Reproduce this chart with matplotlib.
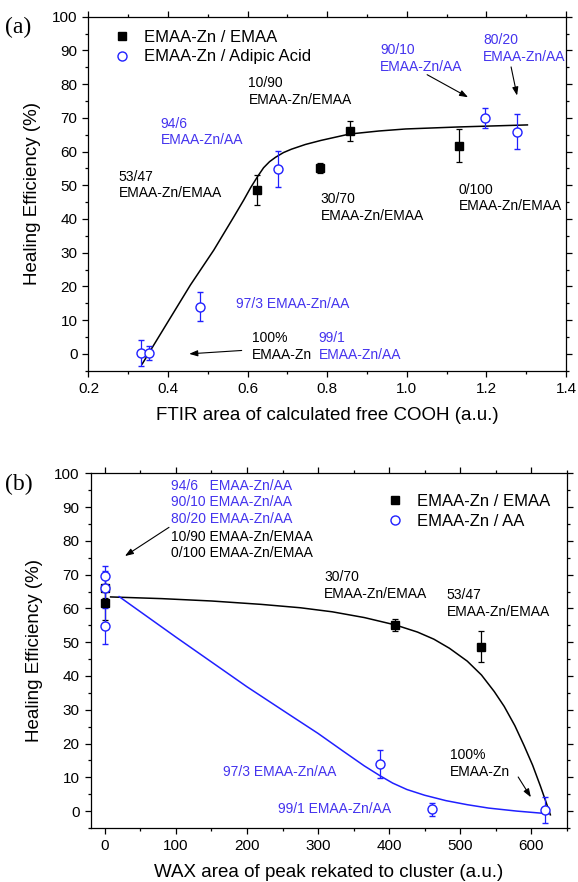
import matplotlib
matplotlib.use("Agg")
import matplotlib.pyplot as plt
from matplotlib.lines import Line2D

plt.rcParams['font.family'] = ['Liberation Sans', 'DejaVu Sans']

BLUE = '#2020ff'
TXT_BLUE = '#4433ee'

# ---- panel (a): FTIR free COOH ----
ftir_emaa = [0.624, 0.782, 0.856, 1.131]
he_emaa_a = [48.5, 55.2, 66.1, 61.7]
err_emaa_a = [4.5, 1.5, 2.9, 4.9]

ftir_aa = [0.333, 0.352, 0.479, 0.676, 1.197, 1.278]
he_aa_a = [0.2, 0.3, 13.9, 54.9, 69.9, 65.9]
err_aa_a = [3.8, 2.0, 4.3, 5.4, 2.9, 5.2]

fit_a_x = [0.335, 0.397, 0.456, 0.515, 0.566, 0.590, 0.608, 0.625, 0.640, 0.655,
           0.670, 0.690, 0.710, 0.745, 0.784, 0.856, 0.930, 0.997, 1.131, 1.303]
fit_a_y = [-3.0, 9.0, 20.4, 30.8, 40.8, 45.6, 49.4, 52.6, 55.2, 57.0,
           58.3, 59.7, 60.7, 62.1, 63.3, 65.2, 66.1, 66.7, 67.3, 67.9]

# ---- panel (b): WAXS cluster peak ----
wax_emaa = [0, 0, 409, 529]
he_emaa_b = [61.5, 66.1, 55.1, 48.7]
err_emaa_b = [4.9, 2.9, 1.7, 4.5]

wax_aa = [0, 0, 0, 387, 460, 619]
he_aa_b = [69.7, 65.9, 54.8, 14.0, 0.6, 0.4]
err_aa_b = [2.9, 5.2, 5.4, 4.2, 1.9, 3.8]

fit_b1_x = [8, 80, 150, 220, 275, 320, 365, 409, 440, 463, 485, 510, 530, 548,
            562, 577, 590, 602, 613, 621, 627]
fit_b1_y = [63.4, 62.9, 62.2, 61.2, 60.2, 59.0, 57.3, 55.1, 53.0, 50.9, 48.2, 44.4, 40.3, 35.4,
            31.0, 25.3, 19.4, 13.6, 7.4, 2.6, -1.1]

fit_b2_x = [20, 100, 200, 260, 300, 335, 365, 387, 405, 425, 450, 480, 510, 540, 580, 625]
fit_b2_y = [63.5, 51.5, 36.8, 28.5, 23.0, 17.8, 13.4, 10.5, 8.3, 6.4, 4.7, 3.1, 1.9, 0.9, 0.0, -0.8]

W, H = 578, 882
fig = plt.figure(figsize=(W / 100, H / 100), dpi=100)


def box(l, r, t, b):
    return [l / W, 1 - b / H, (r - l) / W, (b - t) / H]


def style(ax):
    ax.tick_params(which='both', direction='out', top=True, right=True,
                   labeltop=False, labelright=False, labelsize=11)
    ax.tick_params(which='major', length=4.5, width=0.9)
    ax.tick_params(which='minor', length=2.5, width=0.9)
    for s in ax.spines.values():
        s.set_linewidth(0.9)
    ax.set_ylim(-5, 100)
    ax.set_yticks(range(0, 101, 10))
    ax.set_yticks(range(-5, 101, 5), minor=True)
    ax.set_ylabel('Healing Efficiency (%)', fontsize=13.5, labelpad=8)


def note(ax, x, y, s, c='black'):
    ax.text(x, y, s, color=c, fontsize=10, va='center', ha='left', linespacing=1.25)


def legend_handles(label2):
    sq = Line2D([], [], ls='none', marker='s', color='black', ms=5.5, label='EMAA-Zn / EMAA')
    ci = Line2D([], [], ls='none', marker='o', mfc='white', mec=BLUE, mew=1.0, ms=6.5,
                label=label2)
    return [sq, ci]


arrow = dict(arrowstyle='-|>,head_length=0.5,head_width=0.18', color='black', lw=0.8,
             shrinkA=0, shrinkB=0)

# ---------------- (a) ----------------
ax1 = fig.add_axes(box(88.5, 566, 16.7, 370.7))
style(ax1)
ax1.set_xlim(0.2, 1.4)
ax1.set_xticks([0.2, 0.4, 0.6, 0.8, 1.0, 1.2, 1.4])
ax1.set_xticks([0.3, 0.5, 0.7, 0.9, 1.1, 1.3], minor=True)
ax1.set_xticklabels(['0.2', '0.4', '0.6', '0.8', '1.0', '1.2', '1.4'])

ax1.plot(fit_a_x, fit_a_y, color='black', lw=1.1)
ax1.errorbar(ftir_emaa, he_emaa_a, yerr=err_emaa_a, fmt='s', color='black', ms=5.5,
             capsize=2.5, elinewidth=0.9, capthick=0.9)
ax1.errorbar(ftir_aa, he_aa_a, yerr=err_aa_a, fmt='o', color=BLUE, mfc='white', mec=BLUE,
             ms=6.5, mew=1.0, capsize=2.5, elinewidth=0.9, capthick=0.9)
ax1.set_xlabel('FTIR area of calculated free COOH (a.u.)', fontsize=13.5, labelpad=8)
ax1.legend(handles=legend_handles('EMAA-Zn / Adipic Acid'), loc='upper left',
           bbox_to_anchor=(0.035, 0.99), frameon=False, fontsize=12,
           handlelength=0.8, handletextpad=0.9, labelspacing=0.25, borderaxespad=0.2)

note(ax1, 0.602, 77.8, '10/90\nEMAA-Zn/EMAA')
note(ax1, 0.381, 65.8, '94/6\nEMAA-Zn/AA', TXT_BLUE)
note(ax1, 0.276, 50.1, '53/47\nEMAA-Zn/EMAA')
note(ax1, 0.784, 43.5, '30/70\nEMAA-Zn/EMAA')
note(ax1, 1.131, 46.2, '0/100\nEMAA-Zn/EMAA')
note(ax1, 0.933, 87.7, '90/10\nEMAA-Zn/AA', TXT_BLUE)
note(ax1, 1.192, 90.5, '80/20\nEMAA-Zn/AA', TXT_BLUE)
note(ax1, 0.571, 14.7, '97/3 EMAA-Zn/AA', TXT_BLUE)
note(ax1, 0.611, 2.1, '100%\nEMAA-Zn')
note(ax1, 0.778, 2.1, '99/1\nEMAA-Zn/AA', TXT_BLUE)
ax1.annotate('', xy=(1.154, 76.1), xytext=(1.051, 82.8), arrowprops=arrow)
ax1.annotate('', xy=(1.277, 76.6), xytext=(1.262, 85.1), arrowprops=arrow)
ax1.annotate('', xy=(0.453, 0.0), xytext=(0.585, 1.0), arrowprops=arrow)

fig.text(5 / W, 1 - 27 / H, '(a)', fontsize=17, family='Liberation Serif', va='center')

# ---------------- (b) ----------------
ax2 = fig.add_axes(box(90.7, 566.7, 473.3, 828))
style(ax2)
ax2.set_xlim(-20, 650)
ax2.set_xticks(range(0, 601, 100))
ax2.set_xticks(range(50, 651, 100), minor=True)

ax2.plot(fit_b1_x, fit_b1_y, color='black', lw=1.1)
ax2.plot(fit_b2_x, fit_b2_y, color=BLUE, lw=1.1)
ax2.errorbar(wax_emaa, he_emaa_b, yerr=err_emaa_b, fmt='s', color='black', ms=5.5,
             capsize=2.5, elinewidth=0.9, capthick=0.9)
ax2.errorbar(wax_aa, he_aa_b, yerr=err_aa_b, fmt='o', color=BLUE, mfc='white', mec=BLUE,
             ms=6.5, mew=1.0, capsize=2.5, elinewidth=0.9, capthick=0.9)
ax2.set_xlabel('WAX area of peak rekated to cluster (a.u.)', fontsize=13.5, labelpad=8)
ax2.legend(handles=legend_handles('EMAA-Zn / AA'), loc='upper left',
           bbox_to_anchor=(0.605, 0.97), frameon=False, fontsize=12,
           handlelength=0.8, handletextpad=0.9, labelspacing=0.3, borderaxespad=0.2)

stack_y = [96.3, 91.4, 86.5, 81.2, 76.3]
stack_txt = ['94/6   EMAA-Zn/AA', '90/10 EMAA-Zn/AA', '80/20 EMAA-Zn/AA',
             '10/90 EMAA-Zn/EMAA', '0/100 EMAA-Zn/EMAA']
stack_col = [TXT_BLUE, TXT_BLUE, TXT_BLUE, 'black', 'black']
for yy, s, c in zip(stack_y, stack_txt, stack_col):
    ax2.text(93.5, yy, s, color=c, fontsize=10, va='center', ha='left')
ax2.annotate('', xy=(28.2, 75.5), xytext=(90.2, 84.0), arrowprops=arrow)

note(ax2, 308.5, 66.7, '30/70\nEMAA-Zn/EMAA')
note(ax2, 481.3, 61.5, '53/47\nEMAA-Zn/EMAA')
note(ax2, 486, 14.0, '100%\nEMAA-Zn')
ax2.annotate('', xy=(599.6, 4.1), xytext=(581.7, 10.1), arrowprops=arrow)
note(ax2, 166, 11.7, '97/3 EMAA-Zn/AA', TXT_BLUE)
note(ax2, 244, 0.7, '99/1 EMAA-Zn/AA', TXT_BLUE)

fig.text(5 / W, 1 - 484 / H, '(b)', fontsize=17, family='Liberation Serif', va='center')

fig.savefig('out.png', dpi=100)
